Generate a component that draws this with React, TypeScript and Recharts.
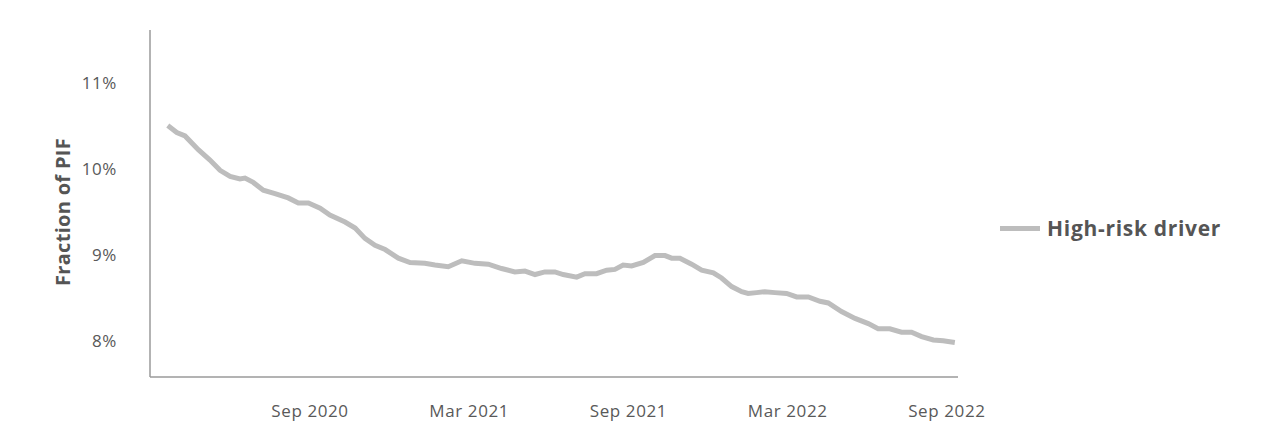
import React from "react";
import { LineChart, Line, XAxis, YAxis, Legend } from "recharts";

// month index (0 = Jan 2020)
const months = [
  2.64, 2.98, 3.29, 3.79, 4.23, 4.61, 4.99, 5.36, 5.55, 5.86, 6.24, 6.68, 7.18, 7.56,
  7.94, 8.38, 8.75, 9.32, 9.7, 10.07, 10.45, 10.83, 11.33, 11.77, 12.33, 12.71, 13.21,
  13.72, 14.22, 14.72, 15.22, 15.72, 16.1, 16.48, 16.85, 17.23, 17.54, 18.05, 18.36,
  18.8, 19.18, 19.49, 19.8, 20.12, 20.56, 21.0, 21.38, 21.63, 21.94, 22.38, 22.76,
  23.2, 23.51, 23.89, 24.27, 24.51, 24.83, 25.14, 25.52, 25.96, 26.34, 26.78, 27.22,
  27.53, 28.03, 28.54, 29.04, 29.41, 29.85, 30.29, 30.67, 31.05, 31.49, 31.86, 32.3,
];

// high-risk driver share of PIF, %
const highRisk = [
  10.5, 10.42, 10.38, 10.22, 10.1, 9.98, 9.91, 9.88, 9.89, 9.84, 9.75, 9.71, 9.66, 9.6,
  9.6, 9.54, 9.46, 9.38, 9.31, 9.19, 9.11, 9.06, 8.96, 8.91, 8.9, 8.88, 8.86,
  8.93, 8.9, 8.89, 8.84, 8.8, 8.81, 8.77, 8.8, 8.8, 8.77, 8.74, 8.78,
  8.78, 8.82, 8.83, 8.88, 8.87, 8.91, 8.99, 8.99, 8.96, 8.96, 8.89, 8.82,
  8.79, 8.73, 8.63, 8.57, 8.55, 8.56, 8.57, 8.56, 8.55, 8.51, 8.51, 8.46,
  8.44, 8.34, 8.26, 8.2, 8.14, 8.14, 8.1, 8.1, 8.05, 8.01, 8.0, 7.98,
];

const xTicks = [8, 14, 20, 26, 32];
const xTickLabels = ["Sep 2020", "Mar 2021", "Sep 2021", "Mar 2022", "Sep 2022"];
const yTicks = [8, 9, 10, 11];

const data = months.map((m, i) => ({ m, v: highRisk[i] }));

const FONT = "'Open Sans', sans-serif";
const TEXT = "#595959";
const AXIS = "#9a9a9a";
const LINE = "#bdbdbd";

function LegendBox() {
  return (
    <div style={{ display: "flex", alignItems: "center", fontFamily: FONT }}>
      <div style={{ width: 40, height: 5, background: LINE, marginRight: 7 }} />
      <span style={{ fontSize: 21, fontWeight: 700, color: "#555", letterSpacing: 0.7 }}>
        High-risk driver
      </span>
    </div>
  );
}

export default function App() {
  return (
    <div style={{ position: "absolute", left: 0, top: 0, width: 1272, height: 446, background: "#fff" }}>
      <LineChart
        width={1272}
        height={446}
        data={data}
        margin={{ top: 30, right: 314, bottom: 0, left: 0 }}
      >
        <XAxis
          dataKey="m"
          type="number"
          domain={[1.97, 32.42]}
          ticks={xTicks}
          tickFormatter={(v: number) => xTickLabels[xTicks.indexOf(v)] ?? ""}
          axisLine={{ stroke: AXIS, strokeWidth: 1.5 }}
          tickLine={false}
          tickSize={0}
          tickMargin={28}
          height={69}
          tick={{ fill: TEXT, fontSize: 17, fontFamily: FONT, letterSpacing: 0.6 }}
        />
        <YAxis
          type="number"
          domain={[7.58, 11.61]}
          ticks={yTicks}
          tickFormatter={(v: number) => `${v}%`}
          axisLine={{ stroke: AXIS, strokeWidth: 1.5 }}
          tickLine={false}
          tickSize={0}
          tickMargin={33}
          width={150}
          tick={{ fill: TEXT, fontSize: 17, fontFamily: FONT, letterSpacing: 0.6 }}
          label={{
            content: () => (
              <text
                x={62}
                y={212}
                transform="rotate(-90 62 212)"
                textAnchor="middle"
                dominantBaseline="central"
                fill="#555"
                fontSize={20}
                fontWeight={700}
                fontFamily={FONT}
                letterSpacing={0.3}
              >
                Fraction of PIF
              </text>
            ),
          }}
        />
        <Legend
          layout="horizontal"
          align="center"
          verticalAlign="middle"
          content={() => <LegendBox />}
          wrapperStyle={{ left: 1000, top: 214, width: 260 }}
        />
        <Line
          dataKey="v"
          stroke={LINE}
          strokeWidth={5}
          dot={false}
          type="linear"
          isAnimationActive={false}
        />
      </LineChart>
    </div>
  );
}
